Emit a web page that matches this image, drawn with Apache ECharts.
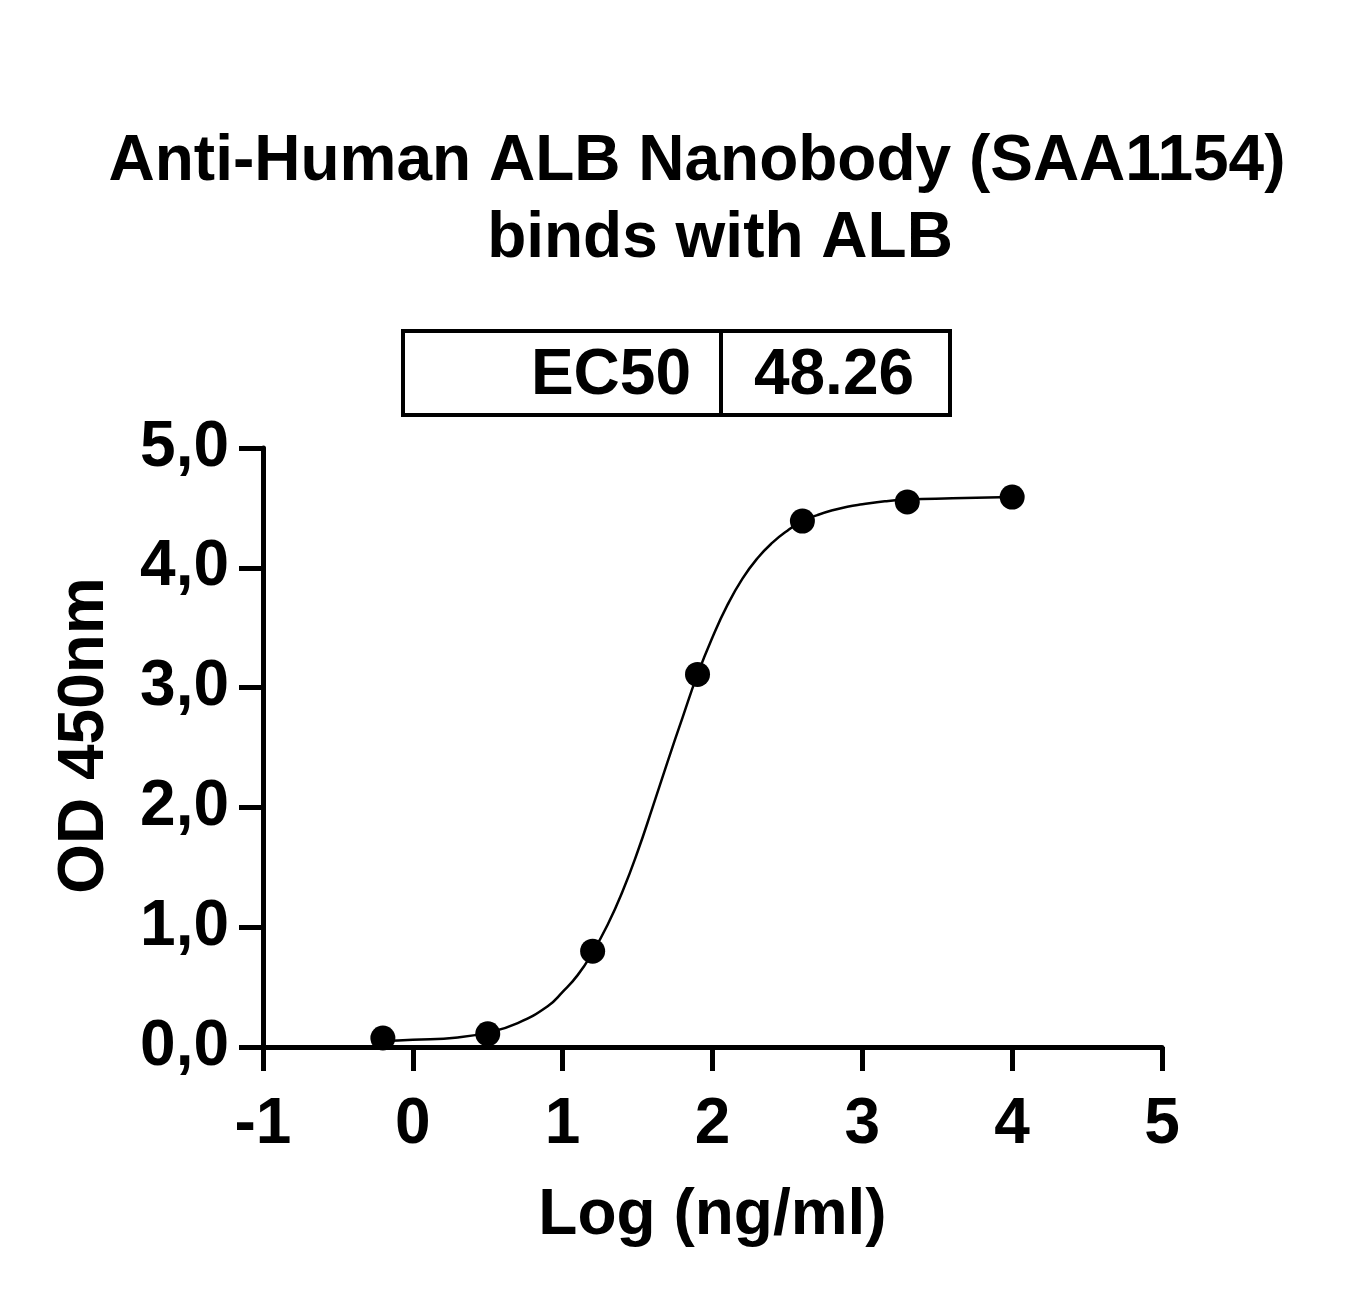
<!DOCTYPE html>
<html>
<head>
<meta charset="utf-8">
<title>Anti-Human ALB Nanobody (SAA1154) binds with ALB</title>
<script src="https://cdn.jsdelivr.net/npm/echarts@6/dist/echarts.min.js"></script>
<style>
  html, body { margin: 0; padding: 0; background: #fff; }
  #chart { width: 1361px; height: 1294px; }
</style>
</head>
<body>
<div id="chart"></div>
<script>
// measured points: log concentration (ng/ml) vs OD 450nm
var logConc = [-0.2, 0.5, 1.2, 1.9, 2.6, 3.3, 4.0];
var odValues = [0.075, 0.11, 0.80, 3.11, 4.39, 4.55, 4.59];

// fitted curve
var curveX = [-0.2, 0.0, 0.3, 0.5, 0.7, 0.9, 1.0, 1.1, 1.2, 1.3, 1.4, 1.5, 1.6, 1.7, 1.8, 1.9, 2.0, 2.1, 2.2, 2.3, 2.4, 2.5, 2.6, 2.7, 2.8, 2.9, 3.0, 3.15, 3.3, 3.6, 4.0];
var curveY = [0.05, 0.06, 0.08, 0.12, 0.20, 0.34, 0.46, 0.60, 0.79, 1.02, 1.30, 1.63, 2.00, 2.38, 2.75, 3.11, 3.42, 3.69, 3.91, 4.08, 4.21, 4.31, 4.39, 4.44, 4.48, 4.51, 4.53, 4.555, 4.57, 4.58, 4.59];

var xTicks = [-1, 0, 1, 2, 3, 4, 5];
var yTicks = ['0,0', '1,0', '2,0', '3,0', '4,0', '5,0'];

var ec50Label = 'EC50';
var ec50Value = '48.26';

var font = 'Liberation Sans, Arial, Helvetica, sans-serif';

var chart = echarts.init(document.getElementById('chart'));

var scatterData = logConc.map(function(x, i) { return [x, odValues[i]]; });
var curveData = curveX.map(function(x, i) { return [x, curveY[i]]; });

var option = {
    backgroundColor: '#fff',
    animation: false,
    grid: {
        left: 263,
        right: 199,
        top: 448,
        bottom: 247
    },
    graphic: [
        // title, two lines
        {
            type: 'text',
            x: 697, y: 194,
            style: {
                text: 'Anti-Human ALB Nanobody (SAA1154)',
                font: 'bold 64px ' + font,
                fill: '#000',
                textAlign: 'center',
                textVerticalAlign: 'bottom'
            }
        },
        {
            type: 'text',
            x: 720, y: 271,
            style: {
                text: 'binds with ALB',
                font: 'bold 64px ' + font,
                fill: '#000',
                textAlign: 'center',
                textVerticalAlign: 'bottom'
            }
        },
        // EC50 table
        {
            type: 'rect',
            shape: { x: 403, y: 331, width: 547, height: 84 },
            style: { fill: 'none', stroke: '#000', lineWidth: 4 }
        },
        {
            type: 'line',
            shape: { x1: 721, y1: 331, x2: 721, y2: 415 },
            style: { stroke: '#000', lineWidth: 4 }
        },
        {
            type: 'text',
            x: 691, y: 376,
            style: {
                text: ec50Label,
                font: 'bold 64px ' + font,
                fill: '#000',
                textAlign: 'right',
                textVerticalAlign: 'middle'
            }
        },
        {
            type: 'text',
            x: 834, y: 376,
            style: {
                text: ec50Value,
                font: 'bold 64px ' + font,
                fill: '#000',
                textAlign: 'center',
                textVerticalAlign: 'middle'
            }
        }
    ],
    xAxis: {
        type: 'value',
        min: xTicks[0],
        max: xTicks[xTicks.length - 1],
        interval: 1,
        name: 'Log (ng/ml)',
        nameLocation: 'middle',
        nameGap: 137,
        nameTextStyle: {
            color: '#000',
            fontFamily: font,
            fontWeight: 'bold',
            fontSize: 64
        },
        axisLine: { show: true, onZero: false, lineStyle: { color: '#000', width: 5 } },
        axisTick: { show: true, inside: false, length: 24, lineStyle: { color: '#000', width: 5 } },
        axisLabel: {
            color: '#000',
            fontFamily: font,
            fontWeight: 'bold',
            fontSize: 64,
            margin: 46
        },
        splitLine: { show: false }
    },
    yAxis: {
        type: 'value',
        min: 0,
        max: 5,
        interval: 1,
        name: 'OD 450nm',
        nameLocation: 'middle',
        nameGap: 146,
        nameRotate: 90,
        nameTextStyle: {
            color: '#000',
            fontFamily: font,
            fontWeight: 'bold',
            fontSize: 64,
            padding: [0, 0, 0, 24]
        },
        axisLine: { show: true, onZero: false, lineStyle: { color: '#000', width: 5 } },
        axisTick: { show: true, inside: false, length: 24, lineStyle: { color: '#000', width: 5 } },
        axisLabel: {
            color: '#000',
            fontFamily: font,
            fontWeight: 'bold',
            fontSize: 64,
            margin: 34,
            formatter: function(v) { return yTicks[Math.round(v)]; }
        },
        splitLine: { show: false }
    },
    series: [{
        name: 'fit',
        type: 'line',
        data: curveData,
        smooth: 0.5,
        showSymbol: false,
        symbol: 'none',
        lineStyle: { color: '#000', width: 2.5 },
        z: 2
    }, {
        name: 'OD',
        type: 'scatter',
        data: scatterData,
        symbol: 'circle',
        symbolSize: 25,
        itemStyle: { color: '#000', opacity: 1 },
        z: 3
    }]
};
chart.setOption(option);
</script>
</body>
</html>
